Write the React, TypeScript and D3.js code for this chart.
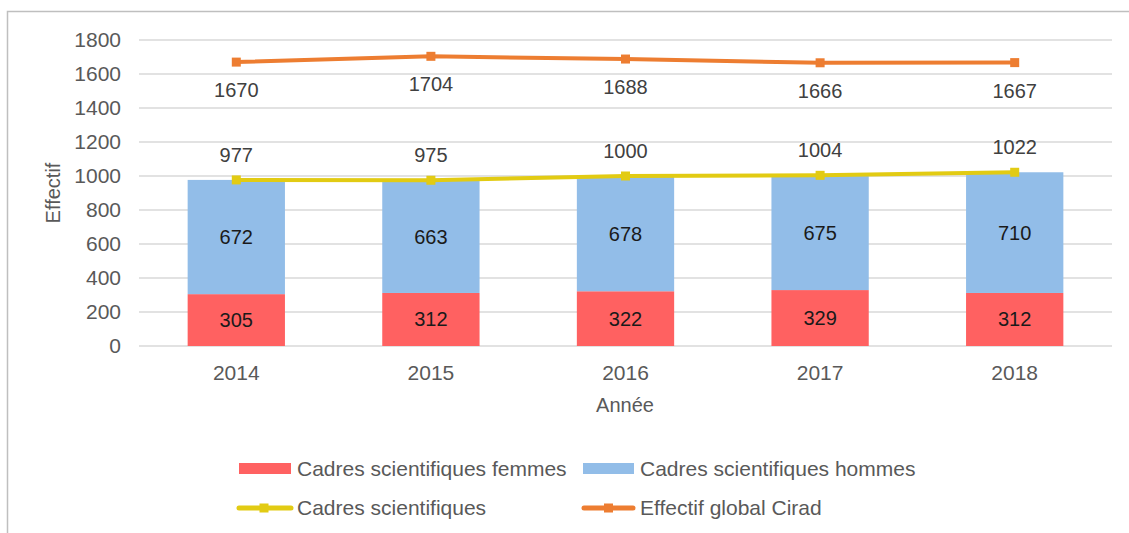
import React from "react";
import * as d3 from "d3";

const years = ["2014", "2015", "2016", "2017", "2018"];
const femmes = [305, 312, 322, 329, 312];
const hommes = [672, 663, 678, 675, 710];
const cadres = [977, 975, 1000, 1004, 1022];
const globalCirad = [1670, 1704, 1688, 1666, 1667];
const yTicks = [0, 200, 400, 600, 800, 1000, 1200, 1400, 1600, 1800];

const RED = "#ff6161";
const BLUE = "#92bde8";
const YELLOW = "#e2cb13";
const ORANGE = "#ed7d31";
const GRID = "#d9d9d9";
const TEXT = "#595959";
const FONT = "'Liberation Sans', Arial, sans-serif";

export default function App() {
  const W = 1129;
  const H = 533;
  const x = d3.scaleBand<string>().domain(years).range([139, 1112]).paddingInner(0).paddingOuter(0);
  const y = d3.scaleLinear().domain([0, 1800]).range([346, 40]);
  const bw = x.bandwidth() * 0.5;
  const cx = (yr: string) => (x(yr) as number) + x.bandwidth() / 2;
  const line = d3
    .line<number>()
    .x((_, i) => cx(years[i]))
    .y((d) => y(d));

  return (
    <svg width={W} height={H} style={{ position: "absolute", left: 0, top: 0, fontFamily: FONT }}>
      <rect x={0} y={0} width={W} height={H} fill="#ffffff" />
      <rect x={7.5} y={11.5} width={W + 20} height={H + 20} fill="none" stroke="#bfbfbf" strokeWidth={1.5} />
      {yTicks.map((t) => (
        <g key={t}>
          <line x1={139} x2={1112} y1={y(t)} y2={y(t)} stroke={GRID} strokeWidth={1.5} />
          <text x={121} y={y(t)} dy="0.35em" textAnchor="end" fontSize={21} fill={TEXT}>
            {t}
          </text>
        </g>
      ))}
      {years.map((yr, i) => (
        <g key={yr}>
          <rect x={cx(yr) - bw / 2} y={y(femmes[i])} width={bw} height={y(0) - y(femmes[i])} fill={RED} />
          <rect
            x={cx(yr) - bw / 2}
            y={y(femmes[i] + hommes[i])}
            width={bw}
            height={y(femmes[i]) - y(femmes[i] + hommes[i])}
            fill={BLUE}
          />
          <text x={cx(yr)} y={(y(0) + y(femmes[i])) / 2} dy="0.35em" textAnchor="middle" fontSize={20} fill="#1a1a1a">
            {femmes[i]}
          </text>
          <text
            x={cx(yr)}
            y={(y(femmes[i]) + y(femmes[i] + hommes[i])) / 2}
            dy="0.35em"
            textAnchor="middle"
            fontSize={20}
            fill="#1a1a1a"
          >
            {hommes[i]}
          </text>
          <text x={cx(yr)} y={373} dy="0.35em" textAnchor="middle" fontSize={21} fill={TEXT}>
            {yr}
          </text>
        </g>
      ))}
      <path d={line(cadres) || ""} fill="none" stroke={YELLOW} strokeWidth={4} />
      <path d={line(globalCirad) || ""} fill="none" stroke={ORANGE} strokeWidth={4} />
      {years.map((yr, i) => (
        <g key={"m" + yr}>
          <rect x={cx(yr) - 4.5} y={y(cadres[i]) - 4.5} width={9} height={9} fill={YELLOW} />
          <rect x={cx(yr) - 4.5} y={y(globalCirad[i]) - 4.5} width={9} height={9} fill={ORANGE} />
          <text x={cx(yr)} y={y(cadres[i]) - 25} dy="0.35em" textAnchor="middle" fontSize={20} fill="#404040">
            {cadres[i]}
          </text>
          <text x={cx(yr)} y={y(globalCirad[i]) + 28} dy="0.35em" textAnchor="middle" fontSize={20} fill="#404040">
            {globalCirad[i]}
          </text>
        </g>
      ))}
      <text x={625} y={405} dy="0.35em" textAnchor="middle" fontSize={20} fill={TEXT}>
        Année
      </text>
      <text
        transform="translate(53,193) rotate(-90)"
        dy="0.35em"
        textAnchor="middle"
        fontSize={20}
        fill={TEXT}
      >
        Effectif
      </text>
      {/* legend */}
      <rect x={239} y={463} width={52} height={11} fill={RED} />
      <text x={297} y={469} dy="0.35em" fontSize={21} fill={TEXT}>
        Cadres scientifiques femmes
      </text>
      <rect x={583} y={463} width={51} height={11} fill={BLUE} />
      <text x={640} y={469} dy="0.35em" fontSize={21} fill={TEXT}>
        Cadres scientifiques hommes
      </text>
      <line x1={239} x2={291} y1={508} y2={508} stroke={YELLOW} strokeWidth={5} strokeLinecap="round" />
      <rect x={259.5} y={503.5} width={9} height={9} fill={YELLOW} />
      <text x={297} y={508} dy="0.35em" fontSize={21} fill={TEXT}>
        Cadres scientifiques
      </text>
      <line x1={584} x2={633} y1={508} y2={508} stroke={ORANGE} strokeWidth={5} strokeLinecap="round" />
      <rect x={604} y={503.5} width={9} height={9} fill={ORANGE} />
      <text x={640} y={508} dy="0.35em" fontSize={21} fill={TEXT}>
        Effectif global Cirad
      </text>
    </svg>
  );
}
